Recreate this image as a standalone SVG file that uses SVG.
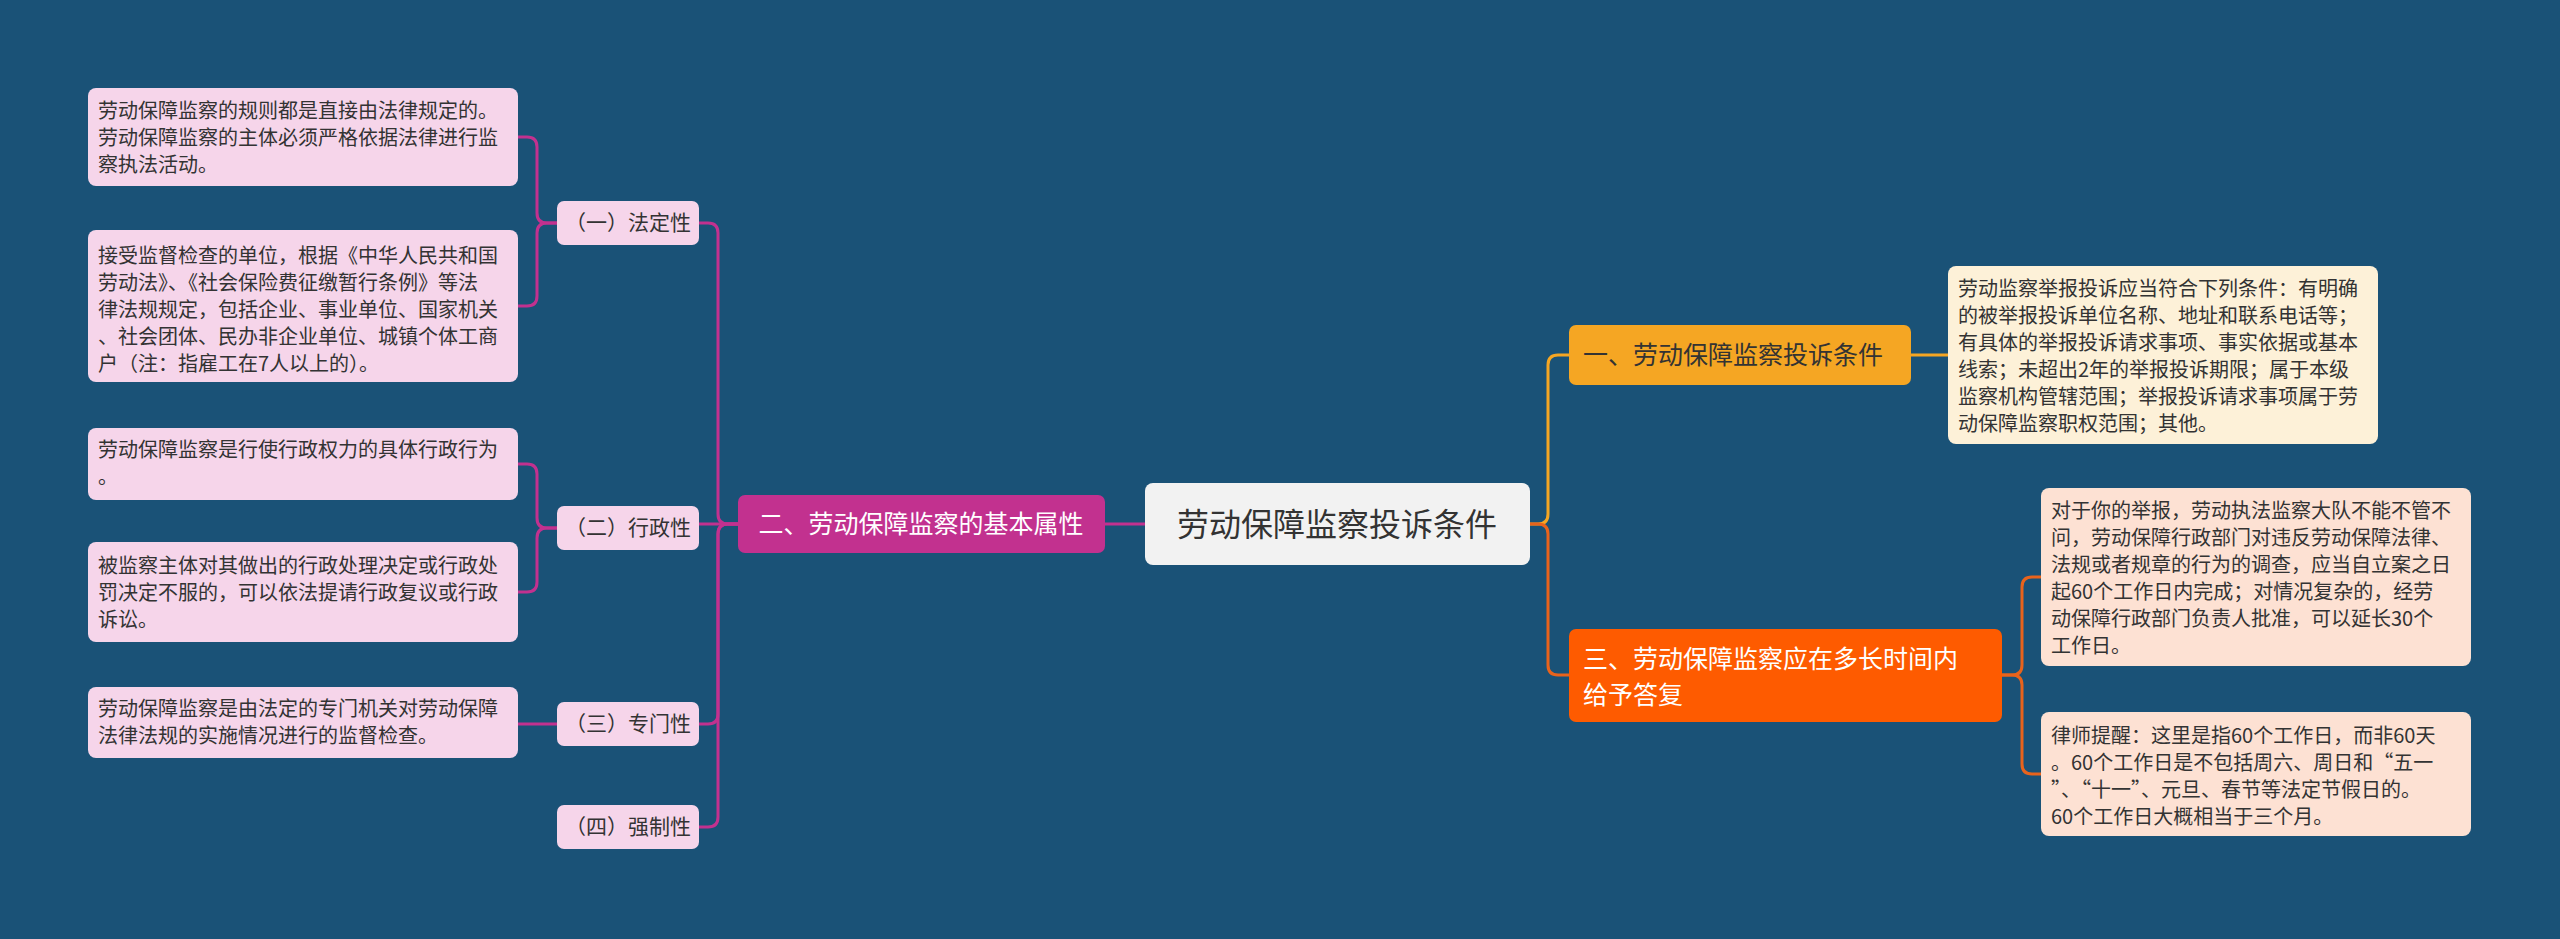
<svg xmlns="http://www.w3.org/2000/svg" width="2560" height="939" viewBox="0 0 2560 939">
<style>
text{font-family:"Noto Sans CJK SC","Noto Sans",sans-serif;fill:#333}
.leaf{font-size:20px}
.sub{font-size:21px}
.m{stroke:#c2318f;stroke-width:3;fill:none}
.o{stroke:#f5a623;stroke-width:3;fill:none}
.r{stroke:#e8631c;stroke-width:3;fill:none}
.pl{fill:#f6d5ea}
</style>
<rect width="2560" height="939" fill="#1a5277"/>
<g id="connectors">
<path class="m" d="M1105 524H1145"/>
<path class="m" d="M738 524H728Q718 524 718 514V233Q718 223 708 223H699"/>
<path class="m" d="M738 524H699"/>
<path class="m" d="M738 524H728Q718 524 718 534V714Q718 724 708 724H699"/>
<path class="m" d="M738 524H728Q718 524 718 534V817Q718 827 708 827H699"/>
<path class="m" d="M557 223H547Q537 223 537 213V147Q537 137 527 137H518"/>
<path class="m" d="M557 223H547Q537 223 537 233V296Q537 306 527 306H518"/>
<path class="m" d="M557 528H547Q537 528 537 518V474Q537 464 527 464H518"/>
<path class="m" d="M557 528H547Q537 528 537 538V582Q537 592 527 592H518"/>
<path class="m" d="M557 724H518"/>
<path class="o" d="M1530 524H1538Q1548 524 1548 514V365Q1548 355 1558 355H1569"/>
<path class="r" d="M1530 524H1538Q1548 524 1548 534V665Q1548 675 1558 675H1569"/>
<path class="o" d="M1911 355H1948"/>
<path class="r" d="M2002 675H2012Q2022 675 2022 665V587Q2022 577 2032 577H2041"/>
<path class="r" d="M2002 675H2012Q2022 675 2022 685V764Q2022 774 2032 774H2041"/>
</g>
<g id="center"><rect x="1145" y="483" width="385" height="82" rx="8" fill="#f2f2f2"/><text x="1337" y="536" font-size="32" text-anchor="middle">劳动保障监察投诉条件</text></g>
<g id="main2"><rect x="738" y="495" width="367" height="58" rx="7" fill="#c2318f"/><text x="921" y="533" font-size="25" text-anchor="middle" style="fill:#fff">二、劳动保障监察的基本属性</text></g>
<g id="s1"><rect class="pl" x="557" y="201" width="142" height="44" rx="7"/><text class="sub" x="628" y="230" text-anchor="middle">（一）法定性</text></g>
<g id="s2"><rect class="pl" x="557" y="506" width="142" height="44" rx="7"/><text class="sub" x="628" y="535" text-anchor="middle">（二）行政性</text></g>
<g id="s3"><rect class="pl" x="557" y="702" width="142" height="44" rx="7"/><text class="sub" x="628" y="731" text-anchor="middle">（三）专门性</text></g>
<g id="s4"><rect class="pl" x="557" y="805" width="142" height="44" rx="7"/><text class="sub" x="628" y="834" text-anchor="middle">（四）强制性</text></g>
<g id="l1"><rect class="pl" x="88" y="88" width="430" height="98" rx="8"/><text class="leaf" x="98"><tspan x="98" y="118">劳动保障监察的规则都是直接由法律规定的。</tspan><tspan x="98" y="145">劳动保障监察的主体必须严格依据法律进行监</tspan><tspan x="98" y="172">察执法活动。</tspan></text></g>
<g id="l2"><rect class="pl" x="88" y="230" width="430" height="152" rx="8"/><text class="leaf"><tspan x="98" y="263">接受监督检查的单位，根据《中华人民共和国</tspan><tspan x="98" y="290">劳动法》、《社会保险费征缴暂行条例》等法</tspan><tspan x="98" y="317">律法规规定，包括企业、事业单位、国家机关</tspan><tspan x="98" y="344">、社会团体、民办非企业单位、城镇个体工商</tspan><tspan x="98" y="371">户（注：指雇工在7人以上的）。</tspan></text></g>
<g id="l3"><rect class="pl" x="88" y="428" width="430" height="72" rx="8"/><text class="leaf"><tspan x="98" y="457">劳动保障监察是行使行政权力的具体行政行为</tspan><tspan x="98" y="484">。</tspan></text></g>
<g id="l4"><rect class="pl" x="88" y="542" width="430" height="100" rx="8"/><text class="leaf"><tspan x="98" y="573">被监察主体对其做出的行政处理决定或行政处</tspan><tspan x="98" y="600">罚决定不服的，可以依法提请行政复议或行政</tspan><tspan x="98" y="627">诉讼。</tspan></text></g>
<g id="l5"><rect class="pl" x="88" y="687" width="430" height="71" rx="8"/><text class="leaf"><tspan x="98" y="716">劳动保障监察是由法定的专门机关对劳动保障</tspan><tspan x="98" y="743">法律法规的实施情况进行的监督检查。</tspan></text></g>
<g id="main1"><rect x="1569" y="325" width="342" height="60" rx="7" fill="#f5a623"/><text x="1583" y="364" font-size="25">一、劳动保障监察投诉条件</text></g>
<g id="r1"><rect x="1948" y="266" width="430" height="178" rx="8" fill="#fdf1d8"/><text class="leaf"><tspan x="1958" y="296">劳动监察举报投诉应当符合下列条件：有明确</tspan><tspan x="1958" y="323">的被举报投诉单位名称、地址和联系电话等；</tspan><tspan x="1958" y="350">有具体的举报投诉请求事项、事实依据或基本</tspan><tspan x="1958" y="377">线索；未超出2年的举报投诉期限；属于本级</tspan><tspan x="1958" y="404">监察机构管辖范围；举报投诉请求事项属于劳</tspan><tspan x="1958" y="431">动保障监察职权范围；其他。</tspan></text></g>
<g id="main3"><rect x="1569" y="629" width="433" height="93" rx="7" fill="#fe5b00"/><text font-size="25" style="fill:#fff"><tspan x="1583" y="668">三、劳动保障监察应在多长时间内</tspan><tspan x="1583" y="704">给予答复</tspan></text></g>
<g id="r2"><rect x="2041" y="488" width="430" height="178" rx="8" fill="#fde1d3"/><text class="leaf"><tspan x="2051" y="518">对于你的举报，劳动执法监察大队不能不管不</tspan><tspan x="2051" y="545">问，劳动保障行政部门对违反劳动保障法律、</tspan><tspan x="2051" y="572">法规或者规章的行为的调查，应当自立案之日</tspan><tspan x="2051" y="599">起60个工作日内完成；对情况复杂的，经劳</tspan><tspan x="2051" y="626">动保障行政部门负责人批准，可以延长30个</tspan><tspan x="2051" y="653">工作日。</tspan></text></g>
<g id="r3"><rect x="2041" y="712" width="430" height="124" rx="8" fill="#fde1d3"/><text class="leaf"><tspan x="2051" y="743">律师提醒：这里是指60个工作日，而非60天</tspan><tspan x="2051" y="770">。60个工作日是不包括周六、周日和“五一</tspan><tspan x="2051" y="797">”、“十一”、元旦、春节等法定节假日的。</tspan><tspan x="2051" y="824">60个工作日大概相当于三个月。</tspan></text></g>
</svg>
